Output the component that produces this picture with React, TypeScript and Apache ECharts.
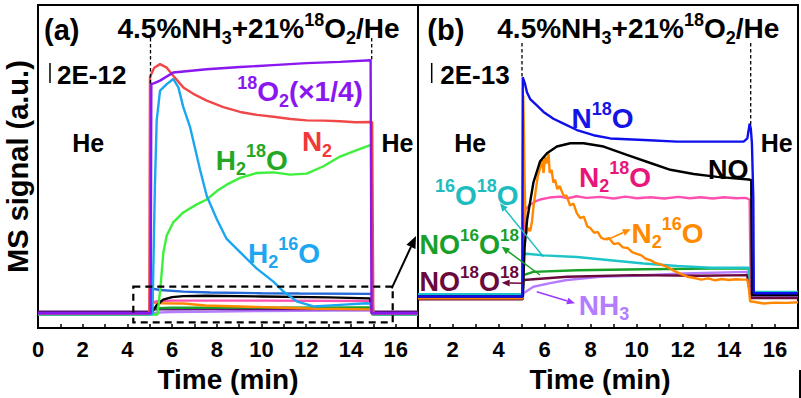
import React, { useEffect, useRef } from 'react';
import * as echarts from 'echarts';

type P = [number, number];

// ---------- Panel (a): time (min) vs MS signal (arbitrary units, 0-100 of panel height) ----------
const o2A: P[] = [[0, 4.6], [5.04, 4.6], [5.07, 75.5], [5.2, 75.8], [5.46, 76.6], [6.05, 79.1], [7.55, 80.1], [9.04, 80.8], [10.51, 81.4], [12.02, 82], [13.5, 82.4], [14.88, 82.9], [14.92, 4.6], [17, 4.6]];
const n2A: P[] = [[0, 4.5], [4.98, 4.5], [5.01, 77.7], [5.2, 80.6], [5.46, 81.7], [5.76, 80.6], [6.05, 78.1], [6.5, 74.5], [6.95, 72.5], [7.55, 70.4], [8.29, 68.4], [9.04, 66.9], [9.8, 66.0], [10.53, 65.4], [11.3, 64.7], [12.02, 64.3], [12.8, 64.2], [13.51, 64], [14.2, 63.7], [14.95, 63.8], [15.0, 4.5], [17, 4.5]];
const h2o16A: P[] = [[0, 4.3], [5.12, 4.3], [5.23, 44], [5.31, 64.3], [5.46, 73.5], [5.76, 75.5], [6.05, 77.1], [6.28, 74.5], [6.5, 68.4], [6.8, 62.3], [7.25, 49], [7.55, 40.9], [8, 33.7], [8.44, 27.6], [9.04, 23.5], [9.79, 18.4], [10.53, 14.4], [10.98, 11.3], [11.57, 8.3], [12.32, 6.7], [13.51, 7.2], [14.71, 7.7], [14.92, 7.5], [14.98, 4.3], [17, 4.3]];
const h2o18A: P[] = [[0, 4.2], [5.35, 4.2], [5.49, 13.5], [5.61, 23.5], [5.76, 28.7], [6.05, 32.7], [6.5, 35.8], [7.1, 38.3], [7.55, 39.8], [8, 42.4], [8.44, 44.4], [9.04, 46.5], [9.79, 48], [10.53, 48.2], [11.28, 47.5], [12.02, 47.8], [12.77, 50.1], [13.51, 53.1], [14.26, 55.1], [14.9, 56.7], [14.98, 4.2], [17, 4.2]];
// small-signal traces of panel (a), inside the dashed box
const n18oA: P[] = [[0, 4.4], [5.0, 4.4], [5.02, 12.5], [5.1, 12.2], [5.46, 11.8], [6.5, 11.3], [7.7, 11], [10, 10.8], [11.7, 10.7], [14.85, 10.6], [14.95, 10.8], [15.0, 4.4], [17, 4.4]];
const noA: P[] = [[0, 4.4], [5.05, 4.4], [5.3, 7], [5.6, 8.8], [6, 9.6], [6.5, 9.9], [7.5, 10], [10, 9.8], [13, 9.5], [14.85, 9.2], [14.97, 4.4], [17, 4.4]];
const n218oA: P[] = [[0, 4.6], [5.02, 4.6], [5.06, 7.8], [5.3, 8.3], [6, 8.5], [10, 8.5], [14.85, 8.4], [14.95, 4.6], [17, 4.6]];
const n216oA: P[] = [[0, 4.3], [5.02, 4.3], [5.05, 13.5], [5.1, 8], [5.5, 7.7], [6.5, 7.6], [7.5, 7], [9, 6.7], [11, 6.3], [12.5, 6], [14.85, 5.8], [14.95, 4.3], [17, 4.3]];
const no1618A: P[] = [[0, 4.3], [5.03, 4.3], [5.08, 6.1], [6, 6.3], [14.85, 6.4], [14.95, 4.3], [17, 4.3]];
const no1818A: P[] = [[0, 5.0], [5.04, 5.0], [5.08, 5.9], [14.9, 6.0], [15.0, 5.0], [17, 5.0]];
const nh3A: P[] = [[0, 4.4], [5.05, 4.4], [5.3, 4.8], [6, 5.0], [8, 5.1], [10, 5.3], [14.85, 5.5], [14.95, 4.4], [17, 4.4]];

// ---------- Panel (b) ----------
const n18oB: P[] = [[0.5, 9.8], [5.03, 9.8], [5.05, 77.6], [5.15, 75.5], [5.23, 73], [5.37, 70.9], [5.66, 68.9], [5.95, 66.9], [6.38, 64.8], [6.82, 63.3], [7.4, 61.3], [8.12, 59.7], [8.85, 58.7], [10.3, 58.2], [11.75, 57.7], [13.2, 57.7], [14.64, 57.7], [14.8, 58.7], [14.9, 63.3], [14.95, 61.8], [15.0, 57.2], [15.06, 40], [15.08, 10.8], [17, 10.8]];
const noB: P[] = [[0.5, 9.8], [5.05, 9.8], [5.13, 25.1], [5.24, 33.6], [5.51, 45], [5.8, 51.6], [6.1, 54.1], [6.53, 56.2], [7.11, 57.2], [7.69, 57.2], [8.56, 56.2], [9.57, 53.6], [10.59, 51.1], [11.46, 49], [12.47, 47.7], [13.49, 46.8], [14.86, 46], [14.97, 45.8], [15.0, 10.2], [17, 10.2]];
const n218oB: P[] = [[0.5, 9.8], [5.05, 9.8], [5.08, 28], [5.15, 36.7], [5.37, 38.2], [5.6, 39.2], [5.8, 39.8], [6.2, 40.4], [6.67, 40.7], [7.0, 40.2], [7.4, 40.8], [7.8, 40.3], [8.41, 40.6], [9.0, 40.1], [9.5, 40.7], [10.0, 40.2], [10.59, 40.5], [11.2, 40.1], [11.8, 40.6], [12.3, 40.2], [12.76, 40.5], [13.3, 40.1], [13.8, 40.5], [14.3, 40.2], [14.72, 40.3], [14.9, 39.8], [14.95, 10.3], [17, 10.3]];
const n216oB: P[] = [[0.5, 9.2], [5.03, 9.2], [5.07, 72], [5.1, 60], [5.13, 45], [5.17, 33], [5.2, 29], [5.3, 31], [5.37, 30], [5.45, 33], [5.52, 38], [5.6, 42], [5.7, 47], [5.8, 49.5], [5.9, 52], [5.95, 48], [6.02, 53], [6.1, 51], [6.17, 54], [6.22, 48], [6.3, 49], [6.38, 45], [6.45, 46], [6.55, 43], [6.65, 44], [6.82, 41], [6.95, 41], [7.1, 38], [7.25, 38.5], [7.4, 35.5], [7.55, 34], [7.7, 34.5], [7.85, 31.5], [7.98, 31], [8.15, 29.5], [8.3, 29.8], [8.45, 28], [8.6, 27.5], [8.8, 27.8], [9.0, 26], [9.2, 26.3], [9.4, 25], [9.6, 24.8], [9.8, 23.5], [10.0, 23], [10.2, 22.5], [10.4, 21.4], [10.6, 21], [10.8, 20.2], [11.0, 19.8], [11.3, 19], [11.6, 17.8], [11.9, 16.8], [12.2, 15.9], [12.5, 15.5], [12.8, 15], [13.1, 15.4], [13.4, 14.8], [13.7, 15.2], [14.0, 14.9], [14.3, 15.1], [14.6, 15], [14.8, 15], [14.87, 12], [14.92, 8.3], [15.2, 8], [15.5, 7.6], [16, 7.9], [16.5, 7.8], [17, 8]];
const o1618B: P[] = [[0.5, 10.5], [5.04, 10.5], [5.08, 22.8], [5.23, 23], [5.95, 22.5], [7.4, 22], [8.85, 21], [10.3, 20], [11.75, 19.2], [13.2, 18.7], [14.86, 18.7], [14.98, 11.2], [17, 11.2]];
const no1618B: P[] = [[0.5, 9.8], [5.04, 9.8], [5.08, 16.4], [5.51, 17.4], [7.4, 17.9], [10.3, 18.2], [13.2, 18.4], [14.86, 18.4], [14.97, 10.5], [17, 10.5]];
const no1818B: P[] = [[0.5, 8.9], [5.04, 8.9], [5.08, 14.9], [6.97, 15.9], [9.86, 16.4], [12.76, 16.2], [14.79, 16.4], [14.95, 9.3], [17, 9.3]];
const nh3B: P[] = [[0.5, 9.2], [5.05, 9.2], [5.08, 10.8], [5.51, 12.8], [6.24, 13.9], [6.97, 14.9], [8.41, 15.9], [9.86, 16.2], [12.02, 16.9], [14.79, 17.4], [14.95, 10], [17, 10]];

const FONT = '"Liberation Sans", Arial, Helvetica, sans-serif';

function rich(color: string, size: number, sub: number) {
  const base = { fontWeight: 'bold', fontFamily: FONT, fill: color, color };
  return {
    m: { ...base, fontSize: size, lineHeight: 36 },
    p: { ...base, fontSize: sub, lineHeight: sub, verticalAlign: 'top' },
    b: { ...base, fontSize: sub, lineHeight: sub, verticalAlign: 'bottom' },
  };
}

function txt(x: number, y: number, text: string, color: string, size = 28, sub = 18) {
  return {
    type: 'text', x, y, z: 100, silent: true,
    style: {
      text, rich: rich(color, size, sub), fill: color, fontSize: size, fontWeight: 'bold', fontFamily: FONT,
      textAlign: 'center', textVerticalAlign: 'middle',
    },
  };
}

function seg(x1: number, y1: number, x2: number, y2: number, color: string, w: number, dash?: number[]) {
  return { type: 'line', z: 90, silent: true, shape: { x1, y1, x2, y2 }, style: { stroke: color, lineWidth: w, lineDash: dash } };
}

function arrow(x1: number, y1: number, x2: number, y2: number, color: string, w = 1.5, head = 8, hw = 3.5) {
  const a = Math.atan2(y2 - y1, x2 - x1);
  const bx = x2 - head * Math.cos(a);
  const by = y2 - head * Math.sin(a);
  const px = -Math.sin(a) * hw;
  const py = Math.cos(a) * hw;
  return [
    seg(x1, y1, bx, by, color, w),
    { type: 'polygon', z: 90, silent: true, shape: { points: [[x2, y2], [bx + px, by + py], [bx - px, by - py]] }, style: { fill: color } },
  ];
}

const lineS = (name: string, data: P[], color: string, idx: number, w = 2.4) => ({
  name, type: 'line', data, xAxisIndex: idx, yAxisIndex: idx, showSymbol: false, symbol: 'none',
  lineStyle: { color, width: w }, itemStyle: { color }, emphasis: { disabled: true }, silent: true,
});

const TITLE = '{m|4.5%NH}{b|3}{m|+21%}{p|18}{m|O}{b|2}{m|/He}';

export default function App() {
  const ref = useRef<HTMLDivElement>(null);
  useEffect(() => {
    if (!ref.current) return;
    const chart = echarts.init(ref.current, undefined, { renderer: 'svg' });
    const xCommon = {
      type: 'value',
      axisLine: { show: true, lineStyle: { color: '#000', width: 2 } },
      axisTick: { show: true, inside: true, length: 4, lineStyle: { color: '#000', width: 1.5 } },
      minorTick: { show: true, splitNumber: 2, length: 4, lineStyle: { color: '#000', width: 1.5 } },
      splitLine: { show: false },
      axisLabel: { color: '#000', fontSize: 22, fontWeight: 'bold', fontFamily: FONT, margin: 10, showMaxLabel: false },
      name: 'Time (min)', nameLocation: 'middle', nameGap: 30,
      nameTextStyle: { color: '#000', fontSize: 28, fontWeight: 'bold', fontFamily: FONT },
    };
    const yCommon = {
      type: 'value', min: 0, max: 100,
      axisLine: { show: false }, axisTick: { show: false }, axisLabel: { show: false }, splitLine: { show: false },
    };
    const graphics: any[] = [
      // panel (a) texts
      txt(61.7, 30, '{m|(a)}', '#000', 29),
      txt(258.5, 28.6, TITLE, '#000'),
      seg(50, 63, 50, 83, '#000', 1.5),
      txt(91.7, 74.5, '{m|2E-12}', '#000', 26),
      txt(88.3, 143, '{m|He}', '#000', 25),
      txt(397.5, 143, '{m|He}', '#000', 25),
      txt(300, 91.6, '{p|18}{m|O}{b|2}{m|(×1/4)}', '#8a16f0'),
      txt(317, 141.6, '{m|N}{b|2}', '#f03a3a'),
      txt(251.7, 160, '{m|H}{b|2}{p|18}{m|O}', '#24a824'),
      txt(284, 253.3, '{m|H}{b|2}{p|16}{m|O}', '#1ea6f0'),
      seg(150.5, 38, 150.5, 84, '#000', 1.3, [3.5, 2.5]),
      seg(371.7, 38, 371.7, 61, '#000', 1.3, [3.5, 2.5]),
      { type: 'rect', z: 90, silent: true, shape: { x: 133.3, y: 286.7, width: 259.4, height: 35.6 }, style: { fill: 'none', stroke: '#000', lineWidth: 2.2, lineDash: [7, 5] } },
      ...arrow(391.7, 288.3, 416, 236, '#000', 2, 12, 5),
      // panel (b) texts
      txt(445.8, 30, '{m|(b)}', '#000', 29),
      txt(638.3, 28.6, TITLE, '#000'),
      seg(431.7, 63, 431.7, 83, '#000', 1.5),
      txt(475, 74.5, '{m|2E-13}', '#000', 26),
      txt(470.3, 143, '{m|He}', '#000', 25),
      txt(776.7, 143, '{m|He}', '#000', 25),
      seg(522, 43, 522, 78, '#000', 1.3, [3.5, 2.5]),
      seg(750.7, 43, 750.7, 125, '#000', 1.3, [3.5, 2.5]),
      txt(602.5, 118.3, '{m|N}{p|18}{m|O}', '#1414e6'),
      txt(728.3, 170, '{m|NO}', '#000', 27),
      txt(615, 177.4, '{m|N}{b|2}{p|18}{m|O}', '#e8157a'),
      txt(667.5, 233.3, '{m|N}{b|2}{p|16}{m|O}', '#ff8a00'),
      txt(604, 305, '{m|NH}{b|3}', '#b47cff'),
      txt(476.7, 195, '{p|16}{m|O}{p|18}{m|O}', '#1cbcc0'),
      txt(469.2, 245.4, '{m|NO}{p|16}{m|O}{p|18}', '#18a028', 27, 17),
      txt(469.2, 281.6, '{m|NO}{p|18}{m|O}{p|18}', '#6a0a3c', 27, 17),
      ...arrow(606.7, 240, 630.7, 229.3, '#ff8a00'),
      ...arrow(543.3, 256.7, 500, 203.3, '#1cbcc0'),
      ...arrow(540, 275, 501.7, 246.7, '#18a028'),
      ...arrow(523.3, 283.3, 501.7, 282.7, '#6a0a3c'),
      ...arrow(536.7, 291.7, 575, 303.3, '#9d3cff'),
      seg(800, 370, 800, 398, '#000', 2),
    ];
    chart.setOption({
      animation: false,
      backgroundColor: '#fff',
      grid: [
        { left: 38, top: 5, width: 380, height: 327, show: true, borderColor: '#000', borderWidth: 2 },
        { left: 418, top: 5, width: 380, height: 327, show: true, borderColor: '#000', borderWidth: 2 },
      ],
      xAxis: [
        { ...xCommon, gridIndex: 0, min: 0, max: 17, interval: 2 },
        {
          ...xCommon, gridIndex: 1, min: 0.5, max: 17, splitNumber: 8, minInterval: 2, maxInterval: 2,
          axisLabel: { ...xCommon.axisLabel, showMinLabel: false },
          nameTextStyle: { ...xCommon.nameTextStyle, padding: [0, 16, 0, 0] },
        },
      ],
      yAxis: [
        {
          ...yCommon, gridIndex: 0, name: 'MS signal (a.u.)', nameLocation: 'middle', nameGap: 6, nameRotate: 90,
          nameTextStyle: { color: '#000', fontSize: 29, fontWeight: 'bold', fontFamily: FONT },
        },
        { ...yCommon, gridIndex: 1 },
      ],
      series: [
        lineS('NH3 a', nh3A, '#b67cff', 0),
        lineS('NO18O18 a', no1818A, '#5d0f84', 0, 2.8),
        lineS('NO16O18 a', no1618A, '#18a028', 0),
        lineS('N2 16O a', n216oA, '#ff8800', 0),
        lineS('N2 18O a', n218oA, '#ff4fb0', 0),
        lineS('NO a', noA, '#000000', 0),
        lineS('N18O a', n18oA, '#2468d8', 0),
        lineS('H2 18O', h2o18A, '#3cf03c', 0),
        lineS('H2 16O', h2o16A, '#1aa6f0', 0),
        lineS('N2', n2A, '#f04848', 0),
        lineS('18O2', o2A, '#8a16f0', 0),
        lineS('NH3', nh3B, '#b67cff', 1),
        lineS('NO18O18', no1818B, '#6a0a3c', 1),
        lineS('NO16O18', no1618B, '#18a028', 1),
        lineS('16O18O', o1618B, '#1cc4c8', 1),
        lineS('N2 18O', n218oB, '#ff4fb0', 1),
        lineS('N2 16O', n216oB, '#ff8800', 1),
        lineS('NO', noB, '#000000', 1),
        lineS('N18O', n18oB, '#0f0fee', 1),
      ],
      graphic: graphics,
    });
    return () => chart.dispose();
  }, []);
  return <div ref={ref} style={{ position: 'fixed', left: 0, top: 0, width: 801, height: 398, background: '#fff' }} />;
}
